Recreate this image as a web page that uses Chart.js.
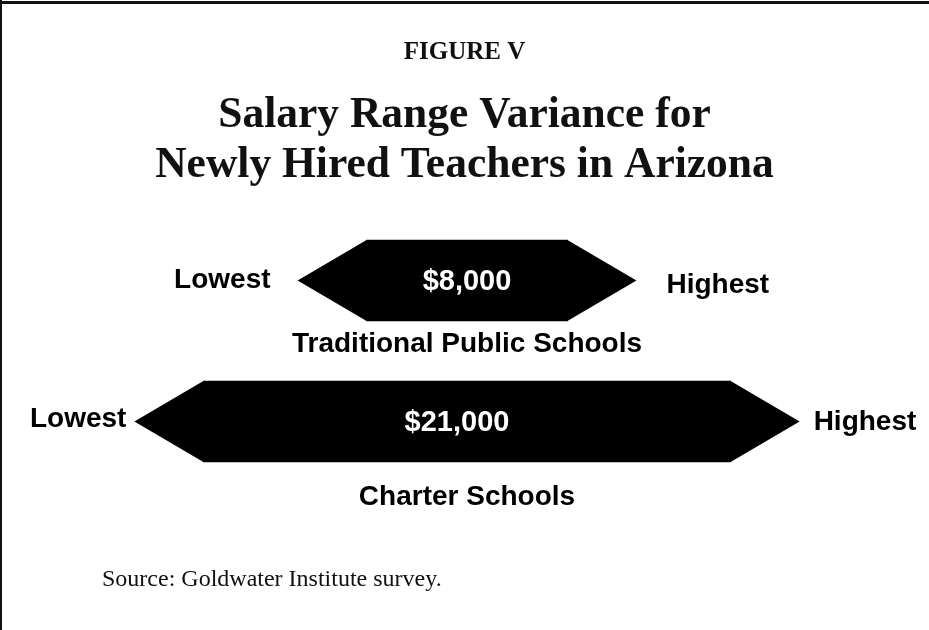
<!DOCTYPE html>
<html>
<head>
<meta charset="utf-8">
<script src="https://cdn.jsdelivr.net/npm/chart.js@4/dist/chart.umd.min.js"></script>
<style>
  html, body { margin: 0; padding: 0; background: #fff; }
  #wrap { position: relative; width: 929px; height: 630px; }
</style>
</head>
<body>
<div id="wrap"><canvas id="rangeChart" width="929" height="630"></canvas></div>
<script>
// datos del gráfico
const schoolTypes = ['Traditional Public Schools', 'Charter Schools'];
const salarySpread = [8000, 21000];
const endLabels = ['Lowest', 'Highest'];
const sourceNote = 'Source: Goldwater Institute survey.';

const fmtMoney = v => '$' + v.toLocaleString('en-US');

// barras flotantes centradas en cero: el ancho es la diferencia de salario
const floatingRanges = salarySpread.map(v => [-v / 2, v / 2]);

const hexBars = {
    id: 'hexBars',
    beforeDraw(chart) {
        const ctx = chart.ctx;
        ctx.save();
        ctx.fillStyle = '#111';
        ctx.fillRect(0, 1, chart.width, 3);
        ctx.fillRect(0, 0, 2, chart.height);
        ctx.restore();
    },
    afterDatasetsDraw(chart, args, opts) {
        const ctx = chart.ctx;
        const meta = chart.getDatasetMeta(0);
        ctx.save();
        meta.data.forEach((bar, i) => {
            const left = Math.min(bar.x, bar.base);
            const right = Math.max(bar.x, bar.base);
            const half = bar.height / 2;
            const y = bar.y;
            const tip = opts.tip;

            ctx.fillStyle = '#000';
            ctx.beginPath();
            ctx.moveTo(left - tip, y);
            ctx.lineTo(left, y - half);
            ctx.lineTo(right, y - half);
            ctx.lineTo(right + tip, y);
            ctx.lineTo(right, y + half);
            ctx.lineTo(left, y + half);
            ctx.closePath();
            ctx.fill();

            // valor dentro de la forma
            ctx.fillStyle = '#fff';
            ctx.font = 'bold 29px "Liberation Sans", Arial, sans-serif';
            ctx.textAlign = 'center';
            ctx.textBaseline = 'middle';
            ctx.fillText(fmtMoney(salarySpread[i]), (left + right) / 2 + opts.valueDx[i], y + 1);

            // extremos
            ctx.fillStyle = '#000';
            ctx.font = 'bold 28px "Liberation Sans", Arial, sans-serif';
            ctx.textAlign = 'right';
            ctx.fillText(endLabels[0], left - tip - opts.lowGap[i], y + opts.lowDy[i]);
            ctx.textAlign = 'left';
            ctx.fillText(endLabels[1], right + tip + opts.highGap[i], y + opts.highDy[i]);

            // nombre de la categoría debajo
            ctx.textAlign = 'center';
            ctx.fillText(schoolTypes[i], (left + right) / 2, y + opts.nameDy[i]);
        });

        ctx.fillStyle = '#111';
        ctx.font = '24px "Liberation Serif", "Times New Roman", serif';
        ctx.textAlign = 'left';
        ctx.textBaseline = 'alphabetic';
        ctx.fillText(sourceNote, opts.sourceX, opts.sourceY);
        ctx.restore();
    }
};

new Chart(document.getElementById('rangeChart').getContext('2d'), {
    type: 'bar',
    data: {
        labels: schoolTypes,
        datasets: [{
            label: 'Salary range',
            data: floatingRanges,
            backgroundColor: '#000',
            borderWidth: 0,
            barThickness: 81
        }]
    },
    options: {
        indexAxis: 'y',
        responsive: false,
        animation: false,
        layout: { padding: { top: 0, bottom: 138, left: 0, right: 0 } },
        scales: {
            x: { display: false, min: -18600, max: 18400 },
            y: { display: false }
        },
        plugins: {
            legend: { display: false },
            tooltip: { enabled: false },
            title: {
                display: true,
                text: 'FIGURE V',
                color: '#111',
                font: { family: '"Liberation Serif", "Times New Roman", serif', size: 25, weight: 'bold', lineHeight: 1.2 },
                padding: { top: 38, bottom: 0 }
            },
            subtitle: {
                display: true,
                text: ['Salary Range Variance for', 'Newly Hired Teachers in Arizona'],
                color: '#111',
                font: { family: '"Liberation Serif", "Times New Roman", serif', size: 43.5, weight: 'bold', lineHeight: 1.15 },
                padding: { top: 23, bottom: 19 }
            },
            hexBars: {
                tip: 69,
                valueDx: [0, -10],
                lowGap: [27, 8],
                highGap: [30, 14],
                lowDy: [0, -2],
                highDy: [5, 1],
                nameDy: [64, 76],
                sourceX: 102,
                sourceY: 586
            }
        }
    },
    plugins: [hexBars]
});
</script>
</body>
</html>
